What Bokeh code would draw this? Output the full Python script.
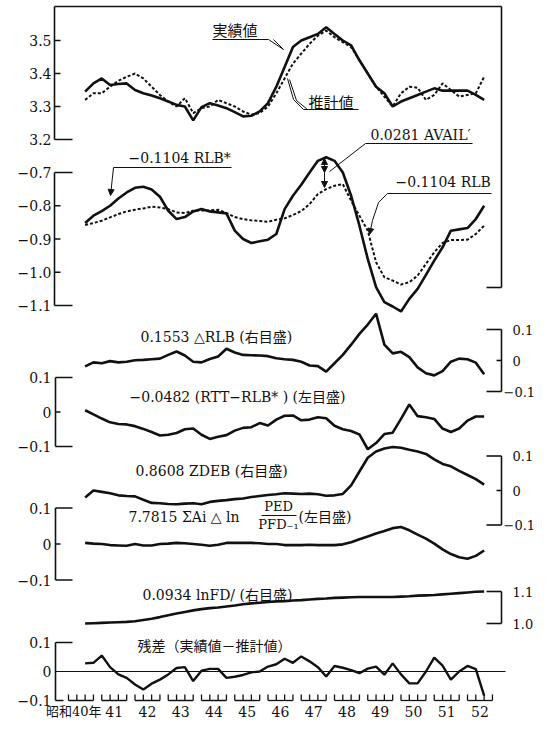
from bokeh.plotting import figure
from bokeh.models import Range1d, Arrow, NormalHead
from bokeh.core.properties import value
from bokeh.embed import file_html
from bokeh.resources import INLINE

# ---------------- data: quarterly, 昭和40年7-9月期 .. 52年7-9月期 ----------------
quarter_x = [40.5 + 0.25 * i for i in range(49)]

actual = [3.345, 3.37, 3.385, 3.365, 3.368, 3.37, 3.35, 3.34, 3.333, 3.325,
          3.315, 3.305, 3.30, 3.258, 3.298, 3.31, 3.303, 3.295, 3.283, 3.27,
          3.272, 3.285, 3.31, 3.36, 3.42, 3.48, 3.50, 3.51, 3.52, 3.54,
          3.52, 3.50, 3.485, 3.44, 3.40, 3.36, 3.34, 3.30, 3.315, 3.325,
          3.335, 3.345, 3.355, 3.348, 3.348, 3.348, 3.348, 3.335, 3.32]
estimate = [3.32, 3.34, 3.34, 3.36, 3.378, 3.39, 3.40, 3.385, 3.36, 3.335,
            3.315, 3.30, 3.325, 3.28, 3.295, 3.30, 3.32, 3.31, 3.30, 3.285,
            3.275, 3.28, 3.30, 3.34, 3.385, 3.43, 3.46, 3.49, 3.515, 3.53,
            3.51, 3.495, 3.48, 3.44, 3.40, 3.36, 3.33, 3.30, 3.34, 3.36,
            3.357, 3.32, 3.335, 3.37, 3.35, 3.33, 3.335, 3.34, 3.39]
rlb_star_term = [-0.852, -0.83, -0.816, -0.80, -0.778, -0.76, -0.746, -0.743, -0.751, -0.773,
                 -0.815, -0.84, -0.834, -0.817, -0.81, -0.817, -0.82, -0.823, -0.875, -0.90,
                 -0.912, -0.907, -0.902, -0.885, -0.81, -0.77, -0.737, -0.70, -0.665, -0.654,
                 -0.665, -0.70, -0.77, -0.86, -0.96, -1.045, -1.09, -1.103, -1.118, -1.08,
                 -1.05, -1.008, -0.965, -0.925, -0.875, -0.871, -0.867, -0.84, -0.80]
rlb_term = [-0.858, -0.852, -0.845, -0.835, -0.825, -0.817, -0.812, -0.808, -0.803, -0.805,
            -0.81, -0.82, -0.822, -0.815, -0.814, -0.814, -0.812, -0.822, -0.834, -0.84,
            -0.844, -0.846, -0.848, -0.842, -0.838, -0.828, -0.816, -0.795, -0.765, -0.75,
            -0.74, -0.735, -0.785, -0.83, -0.875, -0.97, -1.015, -1.025, -1.037, -1.03,
            -1.01, -0.975, -0.94, -0.912, -0.903, -0.903, -0.902, -0.885, -0.86]
d_rlb_term = [-0.019, -0.006, -0.009, -0.002, -0.006, -0.004, 0.001, 0.002, 0.004, 0.006,
              0.018, 0.029, 0.016, -0.004, -0.006, 0.005, 0.013, 0.038, 0.026, 0.018,
              0.017, 0.016, 0.014, 0.007, 0.004, 0.002, -0.004, -0.016, -0.018, -0.036,
              -0.009, 0.018, 0.051, 0.086, 0.116, 0.151, 0.051, 0.023, 0.028, 0.011,
              -0.022, -0.041, -0.048, -0.034, -0.004, 0.006, 0.004, -0.007, -0.044]
rtt_rlb_term = [0.005, -0.007, -0.019, -0.03, -0.035, -0.036, -0.041, -0.049, -0.058, -0.068,
                -0.066, -0.061, -0.05, -0.048, -0.066, -0.078, -0.072, -0.067, -0.054, -0.046,
                -0.044, -0.032, -0.039, -0.022, -0.011, -0.01, -0.024, -0.022, -0.015, -0.018,
                -0.04, -0.05, -0.055, -0.065, -0.108, -0.09, -0.064, -0.06, -0.02, 0.022,
                -0.012, -0.015, -0.02, -0.048, -0.058, -0.048, -0.025, -0.013, -0.013]
zdeb_term = [-0.02, 0.0, -0.004, -0.008, -0.014, -0.016, -0.017, -0.027, -0.036, -0.037,
             -0.039, -0.04, -0.038, -0.037, -0.04, -0.033, -0.03, -0.028, -0.025, -0.023,
             -0.019, -0.016, -0.013, -0.011, -0.008, -0.009, -0.01, -0.009, -0.011, -0.015,
             -0.014, -0.01, 0.015, 0.055, 0.095, 0.113, 0.122, 0.126, 0.124, 0.118,
             0.113, 0.106, 0.09, 0.077, 0.07, 0.057, 0.045, 0.033, 0.017]
ped_term = [0.003, 0.001, 0.0, -0.003, -0.004, -0.005, 0.0, -0.004, -0.004, 0.0,
            0.001, 0.003, 0.002, 0.0, -0.002, -0.005, -0.002, 0.003, 0.003, 0.003,
            0.003, 0.002, 0.0, 0.0, -0.003, -0.003, -0.003, -0.002, -0.003, -0.003,
            -0.003, -0.001, 0.005, 0.013, 0.021, 0.029, 0.036, 0.044, 0.047, 0.038,
            0.026, 0.015, 0.001, -0.015, -0.028, -0.037, -0.041, -0.033, -0.018]
lnfd_term = [1.000, 1.001, 1.002, 1.003, 1.004, 1.005, 1.007, 1.011, 1.015, 1.020,
             1.026, 1.031, 1.036, 1.041, 1.045, 1.048, 1.050, 1.053, 1.056, 1.060,
             1.063, 1.065, 1.067, 1.069, 1.070, 1.072, 1.073, 1.075, 1.077, 1.078,
             1.080, 1.081, 1.082, 1.083, 1.083, 1.083, 1.083, 1.083, 1.084, 1.085,
             1.087, 1.088, 1.089, 1.091, 1.093, 1.095, 1.097, 1.099, 1.100]
residual = [0.028, 0.03, 0.055, 0.015, -0.01, -0.022, -0.045, -0.062, -0.042, -0.028,
            -0.01, 0.012, 0.015, -0.033, 0.003, 0.009, 0.009, -0.022, -0.018, -0.012,
            -0.003, 0.0, 0.017, 0.025, 0.044, 0.03, 0.052, 0.035, 0.015, -0.017,
            0.019, 0.013, 0.005, -0.006, 0.01, 0.017, -0.011, 0.028, -0.01, -0.041,
            -0.041, 0.0, 0.048, 0.02, -0.028, 0.0, 0.019, 0.008, -0.083]

years = list(range(40, 53))
year_labels = ["昭和40年"] + [str(y) for y in range(41, 53)]
top_ticks = [3.5, 3.4, 3.3, 3.2]
rlb_ticks = [-0.7, -0.8, -0.9, -1.0, -1.1]
pm_ticks = [0.1, 0.0, -0.1]
lnfd_ticks = [1.1, 1.0]

# ---------------- layout (positions in picture pixels) ----------------
W, H = 537, 719
X0, XS = 68.0, 33.25          # px of 40年 first quarter, px per year


def yr(px):
    return 40 + (px - X0) / XS


def band(v1, y1, v2, y2):
    k = (v1 - v2) / (y2 - y1)
    return Range1d(start=v1 - (H - y1) * k, end=v1 + y1 * k)


ranges = {
    "top": band(3.5, 40, 3.2, 139),
    "rlb": band(-0.7, 172, -1.1, 305),
    "drlb": band(0.1, 329, -0.1, 391),
    "rtt": band(0.1, 377, -0.1, 446),
    "zdeb": band(0.1, 455.5, -0.1, 524.5),
    "ped": band(0.1, 507.5, -0.1, 579.5),
    "lnfd": band(1.1, 591, 1.0, 623),
    "res": band(0.1, 642, -0.1, 700),
}


def yv(name, py):
    r = ranges[name]
    return r.end - py * (r.end - r.start) / H


SERIF = "DejaVu Serif, Noto Sans CJK JP"
CJK = "Noto Sans CJK JP"
INK = "#111111"

p = figure(width=W, height=H, x_range=Range1d(yr(0), yr(W)), y_range=Range1d(0, 1),
           x_axis_type=None, y_axis_type=None, output_backend="svg", toolbar_location=None,
           min_border=0, outline_line_color=None, background_fill_color="white",
           border_fill_color="white")
p.extra_y_ranges = ranges


def fmt(v):
    if abs(v) < 1e-9:
        return "0"
    return f"{v:.1f}".replace("-", "−")


def seg(name, xs, ys, w=1.4):
    p.line(xs, ys, y_range_name=name, line_color=INK, line_width=w)


def label(name, px, py, s, size="14px", align="left", font=SERIF):
    p.text(x=[yr(px)], y=[yv(name, py)], text=[s], y_range_name=name,
           text_font=value(font), text_font_size=size, text_align=align,
           text_baseline="middle", text_color=INK)


def left_axis(name, ticks, long_ticks, x_px=55):
    x = yr(x_px)
    seg(name, [x, x], [min(ticks), max(ticks)], 1.6)
    for t in ticks:
        seg(name, [x, yr(72 if t in long_ticks else 60)], [t, t], 1.6)
    p.text(x=[yr(51)] * len(ticks), y=ticks, text=[fmt(t) for t in ticks], y_range_name=name,
           text_font=value("DejaVu Serif"), text_font_size="14px", text_align="right",
           text_baseline="middle", text_color=INK)


def right_axis(name, ticks, long_ticks):
    x = yr(501)
    seg(name, [x, x], [min(ticks), max(ticks)], 1.6)
    for t in ticks:
        seg(name, [yr(486 if t in long_ticks else 496), x], [t, t], 1.6)
    xs = [yr(503 if t < 0 else 512) for t in ticks]
    p.text(x=xs, y=ticks, text=[fmt(t) for t in ticks], y_range_name=name,
           text_font=value("DejaVu Serif"), text_font_size="13px", text_align="left",
           text_baseline="middle", text_color=INK)


def arrow(name, p0, p1, both=False):
    head = dict(size=6, fill_color=INK, line_color=INK, line_width=1)
    p.add_layout(Arrow(x_start=yr(p0[0]), y_start=yv(name, p0[1]),
                       x_end=yr(p1[0]), y_end=yv(name, p1[1]), y_range_name=name,
                       end=NormalHead(**head), start=NormalHead(**head) if both else None,
                       line_color=INK, line_width=1))


# ---------------- panel 1: 実績値 / 推計値 ----------------
top_edge = yv("top", 6)
seg("top", [yr(54), yr(54)], [3.2, top_edge], 1.6)
seg("top", [yr(54), yr(501)], [top_edge, top_edge], 1.6)
for t in top_ticks:
    seg("top", [yr(54), yr(72 if t == 3.2 else 60)], [t, t], 1.6)
p.text(x=[yr(51)] * 4, y=top_ticks, text=[fmt(t) for t in top_ticks], y_range_name="top",
       text_font=value("DejaVu Serif"), text_font_size="14px", text_align="right",
       text_baseline="middle", text_color=INK)
seg("rlb", [yr(501), yr(501)], [yv("rlb", 6), yv("rlb", 287)], 1.6)
seg("rlb", [yr(486), yr(501)], [yv("rlb", 287)] * 2, 1.6)

p.line(quarter_x, actual, y_range_name="top", line_color=INK, line_width=2.6)
p.line(quarter_x, estimate, y_range_name="top", line_color=INK, line_width=2.0, line_dash="3 2")

label("top", 212, 29, "実績値", "15px", font=CJK)
seg("top", [yr(212), yr(268)], [yv("top", 39)] * 2, 1.0)
seg("top", [yr(268), yr(283)], [yv("top", 39), yv("top", 49)], 1.0)
seg("top", [yr(273), yr(283)], [yv("top", 39), yv("top", 49)], 1.0)
label("top", 308, 101, "推計値", "15px", font=CJK)
seg("top", [yr(303), yr(358)], [yv("top", 109)] * 2, 1.0)
seg("top", [yr(303), yr(293), yr(287)], [yv("top", 109), yv("top", 99), yv("top", 78)], 1.0)
seg("top", [yr(307), yr(296), yr(289)], [yv("top", 109), yv("top", 100), yv("top", 79)], 1.0)

# ---------------- panel 2: RLB ----------------
left_axis("rlb", rlb_ticks, [-0.7, -1.1], x_px=54)
p.line(quarter_x, rlb_star_term, y_range_name="rlb", line_color=INK, line_width=2.6)
p.line(quarter_x, rlb_term, y_range_name="rlb", line_color=INK, line_width=2.0, line_dash="3 2")

label("rlb", 128, 157, "−0.1104 RLB*")
seg("rlb", [yr(113), yr(231)], [yv("rlb", 167)] * 2, 1.0)
arrow("rlb", (113, 167), (110, 195))
label("rlb", 370, 134, "0.0281 AVAIL′")
seg("rlb", [yr(365), yr(472)], [yv("rlb", 143)] * 2, 1.0)
seg("rlb", [yr(365), yr(329)], [yv("rlb", 143), yv("rlb", 171)], 1.0)
arrow("rlb", (324, 172), (324, 158), both=True)
arrow("rlb", (324, 172), (324, 187))
label("rlb", 395, 181, "−0.1104 RLB")
seg("rlb", [yr(387), yr(491)], [yv("rlb", 193)] * 2, 1.0)
seg("rlb", [yr(387), yr(378), yr(372)], [yv("rlb", 193), yv("rlb", 202), yv("rlb", 220)], 1.0)
arrow("rlb", (372, 220), (369, 234))

# ---------------- panel 3: ΔRLB (right scale) ----------------
right_axis("drlb", pm_ticks, [0.1, -0.1])
p.line(quarter_x, d_rlb_term, y_range_name="drlb", line_color=INK, line_width=2.6)
label("drlb", 140, 336, "0.1553 △RLB (右目盛)")

# ---------------- panel 4: RTT-RLB* (left scale) ----------------
left_axis("rtt", pm_ticks, [0.1, -0.1])
p.line(quarter_x, rtt_rlb_term, y_range_name="rtt", line_color=INK, line_width=2.6)
label("rtt", 129, 396, "−0.0482 (RTT−RLB* ) (左目盛)")

# ---------------- panel 5: ZDEB (right scale) ----------------
right_axis("zdeb", pm_ticks, [0.1, -0.1])
p.line(quarter_x, zdeb_term, y_range_name="zdeb", line_color=INK, line_width=2.6)
label("zdeb", 135, 470, "0.8608 ZDEB (右目盛)")

# ---------------- panel 6: ΣAiΔln PED/PFD-1 (left scale) ----------------
left_axis("ped", pm_ticks, [0.1, -0.1])
p.line(quarter_x, ped_term, y_range_name="ped", line_color=INK, line_width=2.6)
label("ped", 128, 516, "7.7815 ΣAi △ ln")
label("ped", 278, 506, "PED", "13px", align="center")
seg("ped", [yr(261), yr(296)], [yv("ped", 515)] * 2, 1.0)
label("ped", 278, 524, "PFD₋₁", "13px", align="center")
label("ped", 298, 516, "(左目盛)")

# ---------------- panel 7: lnFD (right scale) ----------------
right_axis("lnfd", lnfd_ticks, lnfd_ticks)
p.line(quarter_x, lnfd_term, y_range_name="lnfd", line_color=INK, line_width=2.6)
label("lnfd", 142, 594, "0.0934 lnFD/ (右目盛)")

# ---------------- panel 8: residual ----------------
xa = yr(55)
seg("res", [xa, xa], [0.1, -0.1], 1.6)
seg("res", [xa, yr(72)], [0.1, 0.1], 1.6)
seg("res", [xa, yr(63)], [-0.1, -0.1], 1.6)
seg("res", [xa, yr(505)], [0.0, 0.0], 1.2)
p.text(x=[yr(51)] * 3, y=pm_ticks, text=[fmt(t) for t in pm_ticks], y_range_name="res",
       text_font=value("DejaVu Serif"), text_font_size="14px", text_align="right",
       text_baseline="middle", text_color=INK)
p.line(quarter_x, residual, y_range_name="res", line_color=INK, line_width=2.4)
label("res", 137, 644, "残差（実績値－推計値）", "14px", font=CJK)

# quarter brackets along the bottom
tick_h = 0.1 * 6 / 29.0
bx, by = [], []
for y in years:
    bx.append([y, y + 0.75])
    by.append([-0.1, -0.1])
    for q in range(4):
        bx.append([y + q * 0.25, y + q * 0.25])
        by.append([-0.1, -0.1 + tick_h])
p.multi_line(bx, by, y_range_name="res", line_color=INK, line_width=1.3)

ylab_y = yv("res", 711)
p.text(x=[yr(101)], y=[ylab_y], text=[year_labels[0]], y_range_name="res",
       text_font=value(SERIF), text_font_size="13px", text_align="right",
       text_baseline="middle", text_color=INK)
p.text(x=[y + 0.375 for y in years[1:]], y=[ylab_y] * (len(years) - 1), text=year_labels[1:],
       y_range_name="res", text_font=value(SERIF), text_font_size="14px",
       text_align="center", text_baseline="middle", text_color=INK)

open("out.html", "w").write(file_html(p, INLINE))
